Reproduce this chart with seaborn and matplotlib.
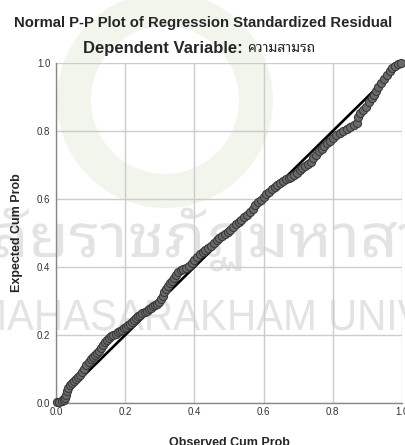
import matplotlib
matplotlib.use("Agg")
import matplotlib.pyplot as plt
import seaborn as sns
import pandas as pd
from matplotlib.textpath import TextPath, text_to_path
from matplotlib.font_manager import FontProperties
from matplotlib.patches import PathPatch, Wedge
from matplotlib.transforms import Affine2D

# --- DADOS ---
obs_cum_prob = [
    0.004, 0.010, 0.016, 0.022, 0.026, 0.030, 0.032, 0.036, 0.040, 0.046,
    0.052, 0.058, 0.064, 0.070, 0.076, 0.082, 0.088, 0.094, 0.100, 0.106,
    0.112, 0.118, 0.124, 0.130, 0.136, 0.142, 0.148, 0.154, 0.160, 0.166,
    0.172, 0.178, 0.184, 0.190, 0.196, 0.202, 0.208, 0.214, 0.220, 0.226,
    0.232, 0.238, 0.244, 0.250, 0.256, 0.262, 0.268, 0.274, 0.280, 0.286,
    0.292, 0.298, 0.304, 0.308, 0.312, 0.318, 0.324, 0.330, 0.336, 0.342,
    0.348, 0.354, 0.360, 0.368, 0.376, 0.384, 0.392, 0.400, 0.408, 0.416,
    0.424, 0.432, 0.440, 0.448, 0.456, 0.464, 0.472, 0.480, 0.488, 0.496,
    0.504, 0.512, 0.520, 0.528, 0.536, 0.544, 0.552, 0.560, 0.568, 0.576,
    0.584, 0.592, 0.600, 0.608, 0.616, 0.624, 0.632, 0.640, 0.648, 0.656,
    0.664, 0.672, 0.680, 0.688, 0.696, 0.704, 0.712, 0.720, 0.728, 0.736,
    0.744, 0.752, 0.760, 0.768, 0.776, 0.784, 0.792, 0.800, 0.810, 0.820,
    0.830, 0.840, 0.850, 0.860, 0.870, 0.874, 0.880, 0.888, 0.896, 0.904,
    0.912, 0.920, 0.926, 0.932, 0.940, 0.948, 0.956, 0.964, 0.972, 0.980,
    0.988, 0.996,
]
exp_cum_prob = [
    0.002, 0.004, 0.006, 0.010, 0.016, 0.024, 0.034, 0.045, 0.052, 0.058,
    0.064, 0.070, 0.076, 0.082, 0.090, 0.100, 0.112, 0.122, 0.130, 0.136,
    0.142, 0.148, 0.154, 0.162, 0.172, 0.180, 0.186, 0.192, 0.196, 0.200,
    0.204, 0.208, 0.212, 0.216, 0.220, 0.224, 0.228, 0.233, 0.238, 0.244,
    0.250, 0.256, 0.260, 0.264, 0.268, 0.272, 0.276, 0.280, 0.284, 0.288,
    0.292, 0.298, 0.306, 0.316, 0.326, 0.336, 0.344, 0.352, 0.360, 0.368,
    0.376, 0.384, 0.390, 0.394, 0.398, 0.404, 0.412, 0.420, 0.430, 0.438,
    0.444, 0.450, 0.456, 0.462, 0.470, 0.478, 0.486, 0.492, 0.498, 0.504,
    0.510, 0.518, 0.526, 0.532, 0.538, 0.546, 0.554, 0.562, 0.572, 0.582,
    0.590, 0.598, 0.606, 0.614, 0.622, 0.628, 0.634, 0.640, 0.646, 0.652,
    0.658, 0.662, 0.666, 0.670, 0.676, 0.684, 0.690, 0.696, 0.702, 0.710,
    0.720, 0.730, 0.740, 0.748, 0.756, 0.764, 0.772, 0.780, 0.788, 0.794,
    0.800, 0.806, 0.812, 0.818, 0.824, 0.842, 0.852, 0.862, 0.872, 0.884,
    0.896, 0.906, 0.918, 0.930, 0.942, 0.954, 0.966, 0.976, 0.986, 0.992,
    0.996, 0.999,
]
ref_line = [0.0, 1.0]
ticks = [0.0, 0.2, 0.4, 0.6, 0.8, 1.0]
tick_labels = ["0.0", "0.2", "0.4", "0.6", "0.8", "1.0"]

TITULO = "Normal P-P Plot of Regression Standardized Residual"
SUBTITULO = "Dependent Variable: "
SUBTITULO_TH = "ความสามรถ"
MARCA_TH = "ลัยราชภัฏมหาสารคาม"
MARCA_EN = "MAHASARAKHAM UNIV"

W, H = 406, 445
COR_MARCA = "#e3e3e3"


def adv(s, prop):
    # largura de avanço do texto (fonte de tamanho 1)
    return text_to_path.get_text_width_height_descent(s, prop, ismath=False)[0]


def marca_dagua(fig, texto, prop, x_ini, idx_a, idx_b, largura, ref_alt, alt, base_y):
    # texto de fundo esticado: caractere idx_a começa em x_ini, idx_b fica a x_ini+largura
    xa = adv(texto[:idx_a], prop)
    xb = adv(texto[:idx_b], prop)
    h = TextPath((0, 0), ref_alt, size=1, prop=prop).get_extents().height
    sx = largura / (xb - xa)
    sy = alt / h
    path = TextPath((0, 0), texto, size=1, prop=prop)
    tr = Affine2D().scale(sx, sy).translate(x_ini - xa * sx, base_y)
    p = PathPatch(path, transform=tr, facecolor=COR_MARCA, edgecolor="none", zorder=-5)
    fig.add_artist(p)


df = pd.DataFrame({"obs": obs_cum_prob, "exp": exp_cum_prob})

sns.set_style("white")
plt.rcParams["font.family"] = ["Liberation Sans", "Noto Sans Thai Looped", "DejaVu Sans"]

fig = plt.figure(figsize=(W / 100, H / 100), dpi=100)

# logo de fundo (anel verde bem claro)
anel = Wedge((165, H - 100), 108, 0, 360, width=34, transform=None,
             facecolor="#f1f5ec", edgecolor="none", zorder=-6)
fig.add_artist(anel)

prop_th = FontProperties(family="Noto Sans Thai Looped", size=1)
prop_en = FontProperties(family="Liberation Sans", size=1)
marca_dagua(fig, MARCA_TH, prop_th, 69, 3, 12, 291, "ม", 34, H - 257)
marca_dagua(fig, MARCA_EN, prop_en, 7, 1, 13, 321, "H", 30, H - 330)

ax = fig.add_axes([56 / W, 42 / H, 346 / W, 340 / H])
ax.patch.set_alpha(0)

ax.grid(True, color="#cccccc", linewidth=1)
ax.set_axisbelow(True)

sns.lineplot(x=ref_line, y=ref_line, ax=ax, color="black", linewidth=1.9, zorder=2)
sns.scatterplot(data=df, x="obs", y="exp", ax=ax, s=34, color="#6b6b6b",
                edgecolor="#3a3a3a", linewidth=0.8, zorder=3, clip_on=False)

ax.set_xlim(0, 1)
ax.set_ylim(0, 1)
ax.set_xticks(ticks)
ax.set_xticklabels(tick_labels)
ax.set_yticks(ticks)
ax.set_yticklabels(tick_labels)
ax.tick_params(axis="both", labelsize=7, colors="#333333", length=3, width=0.8, pad=1)
ax.tick_params(axis="x", length=0, pad=3)

for side in ["top", "right"]:
    ax.spines[side].set_visible(False)
for side in ["left", "bottom"]:
    ax.spines[side].set_color("#888888")
    ax.spines[side].set_linewidth(1)

ax.set_xlabel("Observed Cum Prob", fontsize=9, fontweight="bold", labelpad=14)
ax.set_ylabel("Expected Cum Prob", fontsize=9, fontweight="bold", labelpad=10)

fig.text(0.5, 1 - 23 / H, TITULO, ha="center", va="center", fontsize=10.7, fontweight="bold")
t1 = fig.text(83 / W, 1 - 48 / H, SUBTITULO, ha="left", va="center", fontsize=12.0, fontweight="bold")
fig.canvas.draw()
bb = t1.get_window_extent()
fig.text(bb.x1 / W, 1 - 48 / H, SUBTITULO_TH, ha="left", va="center", fontsize=10,
         family=["Noto Sans Thai Looped", "DejaVu Sans"])

fig.savefig("out.png", dpi=100)
